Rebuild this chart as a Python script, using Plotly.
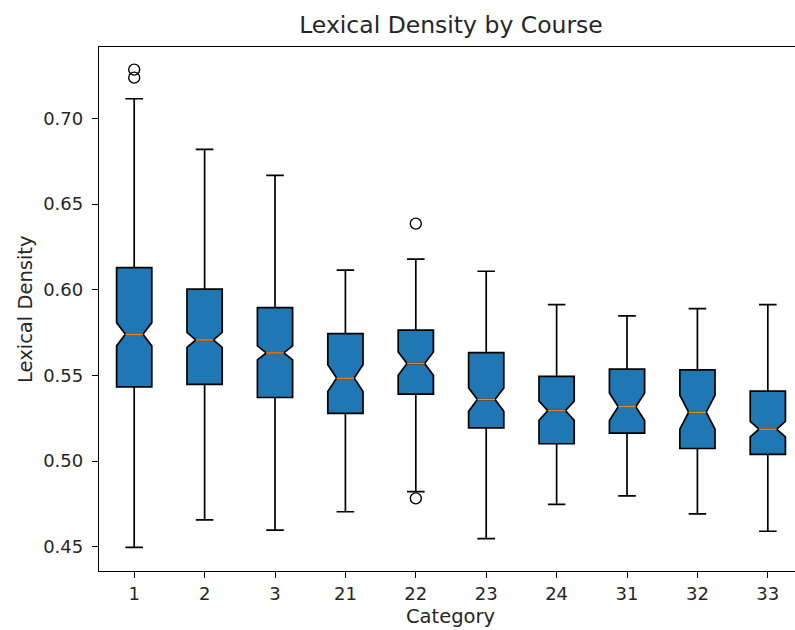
import plotly.graph_objects as go

categories = ["1", "2", "3", "21", "22", "23", "24", "31", "32", "33"]
q1 = [0.5433, 0.5447, 0.5371, 0.5278, 0.5390, 0.5194, 0.5101, 0.5163, 0.5073, 0.5039]
median = [0.5740, 0.5707, 0.5631, 0.5484, 0.5569, 0.5359, 0.5294, 0.5317, 0.5285, 0.5186]
q3 = [0.6129, 0.6004, 0.5896, 0.5744, 0.5764, 0.5633, 0.5494, 0.5536, 0.5532, 0.5408]
lower_whisker = [0.4496, 0.4656, 0.4597, 0.4704, 0.4821, 0.4547, 0.4747, 0.4797, 0.4691, 0.4590]
upper_whisker = [0.7115, 0.6819, 0.6668, 0.6114, 0.6179, 0.6108, 0.5913, 0.5847, 0.5890, 0.5913]
notch_half = [0.0068, 0.0044, 0.0041, 0.0078, 0.0068, 0.0068, 0.0056, 0.0080, 0.0099, 0.0045]
outlier_cat = ["1", "1", "22", "22"]
outlier_val = [0.7285, 0.7238, 0.6386, 0.4782]
y_ticks = [0.45, 0.50, 0.55, 0.60, 0.65, 0.70]

pos = list(range(1, len(categories) + 1))
cat_pos = {c: p for c, p in zip(categories, pos)}
BOX_W = 0.5

fig = go.Figure()
fig.add_trace(go.Box(
    x=pos, q1=q1, median=median, q3=q3,
    lowerfence=lower_whisker, upperfence=upper_whisker,
    notchspan=notch_half, notched=True, notchwidth=0.25,
    width=BOX_W, whiskerwidth=0.5, boxpoints=False,
    fillcolor="#1f77b4", line=dict(color="black", width=1.7),
    showlegend=False, hoverinfo="skip",
))

# orange median lines
mx, my = [], []
for p, m in zip(pos, median):
    mx += [p - BOX_W / 4, p + BOX_W / 4, None]
    my += [m, m, None]
fig.add_trace(go.Scatter(x=mx, y=my, mode="lines",
                         line=dict(color="#ff7f0e", width=1.6),
                         showlegend=False, hoverinfo="skip"))

fig.add_trace(go.Scatter(
    x=[cat_pos[c] for c in outlier_cat], y=outlier_val, mode="markers",
    marker=dict(symbol="circle-open", size=11, color="black", line=dict(width=1.4)),
    showlegend=False, hoverinfo="skip"))

font = "DejaVu Sans"
fig.update_layout(
    width=795, height=630,
    margin=dict(l=99, r=0, t=47, b=59),
    paper_bgcolor="white", plot_bgcolor="white",
    font=dict(family=font, size=18, color="#262626"),
    title=dict(text="Lexical Density by Course", x=(99 + 803) / 2 / 795, xanchor="center",
               y=1 - 25 / 630, yanchor="middle", font=dict(size=23.5, color="#262626")),
    xaxis=dict(range=[0.5, 10.386], tickvals=pos, ticktext=categories,
               showline=True, linecolor="black", linewidth=1.3, mirror=True,
               ticks="outside", ticklen=6, tickcolor="black", tickwidth=1.2,
               tickfont=dict(size=18),
               showgrid=False, zeroline=False),
    yaxis=dict(range=[0.4358, 0.7417], tickvals=y_ticks,
               ticktext=[f"{v:.2f}" for v in y_ticks],
               showline=True, linecolor="black", linewidth=1.3, mirror=False,
               ticks="outside", ticklen=6, tickcolor="black", tickwidth=1.2,
               tickfont=dict(size=18), ticklabelstandoff=5,
               showgrid=False, zeroline=False),
    annotations=[
        dict(text="Lexical Density", xref="paper", yref="paper", x=-(99 - 25) / 696,
             y=0.5, xanchor="center", yanchor="middle", textangle=-90,
             showarrow=False, font=dict(size=19.5, color="#262626")),
        dict(text="Category", xref="paper", yref="paper", x=(450 - 99) / 696,
             y=-(630 - 571) / 524, xanchor="center", yanchor="bottom",
             showarrow=False, font=dict(size=19.5, color="#262626")),
    ],
)

fig.write_html("out.html")
